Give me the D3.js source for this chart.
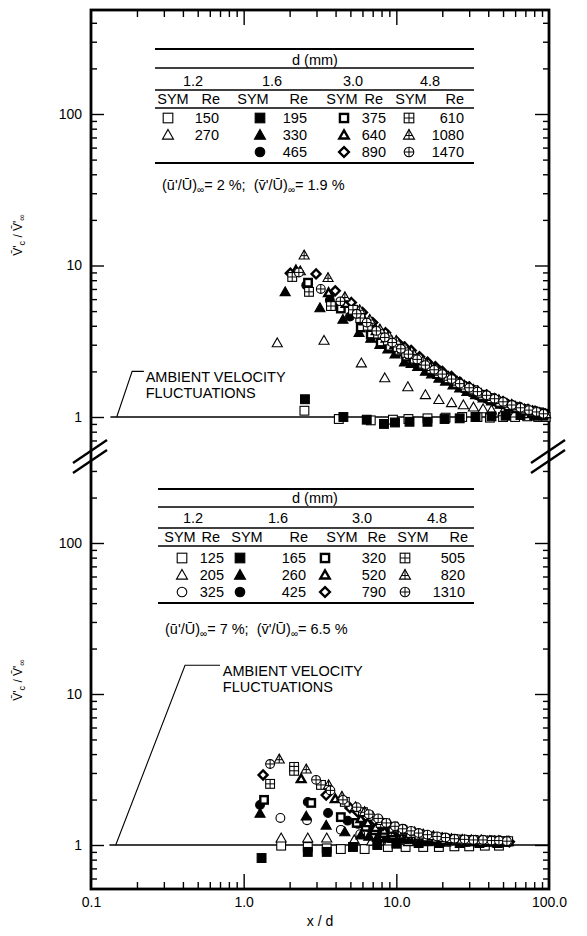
<!DOCTYPE html>
<meta charset="utf-8">
<script src="https://d3js.org/d3.v7.min.js"></script>
<style>
body { margin: 0; background: #fff; }
text { font-family: "Liberation Sans", Arial, sans-serif; fill: #000; }
</style>
<body>
<div id="chart"></div>
<script>
// ---------- data ----------
var diameters = ["1.2", "1.6", "3.0", "4.8"];
var reTop = [[150, 270], [195, 330, 465], [375, 640, 890], [610, 1080, 1470]];
var reBot = [[125, 205, 325], [165, 260, 425], [320, 520, 790], [505, 820, 1310]];

// top panel, (u'/U)inf = 2 %
var top150 = [[2.5,1.1],[4.2,0.97],[6.8,0.95],[9.5,0.96],[12,0.97],[16,0.98],[21,0.99],[27,1.0],[34,1.0],[41,0.99],[50,1.0],[60,1.0],[72,1.01],[85,1.0],[95,1.0]];
var top270 = [[1.66,3.08],[3.36,3.2],[5.9,2.27],[8.4,1.81],[11.9,1.58],[15.5,1.4],[19,1.3],[23,1.24],[27.5,1.2],[32,1.16],[37,1.13],[42,1.11],[50,1.08],[60,1.06],[72,1.05],[88,1.03]];
var top195 = [[2.52,1.31],[4.5,1.0],[6.4,0.96],[8.3,0.9],[9.8,0.92],[12.2,0.93],[16,0.93],[20.7,0.97],[26,0.98],[33,1.0],[42,1.01],[52,1.02],[65,1.03],[80,1.02],[92,1.02]];
var top330 = [[1.87,6.7],[3.16,5.25],[4.47,4.4],[5.7,3.6],[6.8,3.3],[7.8,3.0],[8.8,2.8],[9.8,2.6],[11.3,2.3],[12.5,2.25],[13.8,2.15],[15.5,2.0],[17,1.92],[19,1.8],[21,1.72],[23.5,1.62],[26,1.55],[29,1.47],[33,1.4],[37,1.33],[42,1.27],[48,1.21],[55,1.17],[62,1.13],[70,1.1],[78,1.07],[88,1.05]];
var top465 = [[2.57,7.4],[3.67,5.9],[4.97,4.6],[6.0,4.0],[7.0,3.6],[8.0,3.25],[9.0,3.0],[10.2,2.75],[11.5,2.55],[13,2.35],[14.5,2.2],[16.5,2.02],[18.5,1.9],[21,1.77],[24,1.65],[27.5,1.54],[31,1.45],[35,1.37],[40,1.3],[46,1.24],[52,1.2],[59,1.15],[67,1.12],[75,1.09],[85,1.06]];
var top375 = [[2.64,7.7],[4.33,5.2],[5.85,3.9],[6.8,3.5],[7.9,3.1],[9.0,2.9],[10.3,2.7],[11.6,2.5],[13,2.35],[14.7,2.18],[16.5,2.05],[18.5,1.92],[21,1.8],[24,1.7],[27,1.6],[31,1.5],[35,1.4],[40,1.33],[45,1.27],[51,1.22],[58,1.17],[66,1.13],[75,1.1],[83,1.07],[92,1.05]];
var top640 = [[2.2,9.3],[3.6,6.6],[4.7,5.6],[5.4,4.9],[6.2,4.3],[7.4,3.7],[8.6,3.3],[9.8,3.0],[11,2.8],[12.5,2.58],[14,2.4],[16,2.2],[18,2.05],[20.5,1.92],[23,1.8],[26.5,1.67],[30,1.55],[34,1.46],[39,1.38],[44,1.31],[50,1.25],[57,1.2],[64,1.15],[72,1.11],[82,1.08],[92,1.05]];
var top890 = [[2.02,8.9],[2.98,8.8],[3.98,6.8],[5.07,5.7],[6.0,4.9],[7.0,4.2],[8.5,3.6],[10.2,3.1],[11.3,2.9],[12.5,2.75],[14.2,2.5],[16,2.3],[18,2.15],[20,2.0],[23,1.85],[26,1.7],[30,1.58],[34,1.48],[39,1.4],[44,1.32],[50,1.26],[57,1.2],[65,1.15],[73,1.12],[81,1.09],[90,1.06]];
var top610 = [[2.08,8.4],[2.68,6.7],[3.73,5.4],[5.2,5.1],[5.8,4.5],[6.5,4.0],[7.6,3.55],[8.8,3.2],[10.2,2.9],[11.6,2.65],[13.2,2.43],[15,2.25],[17,2.08],[19,1.95],[22,1.8],[25,1.68],[28.5,1.58],[32,1.5],[37,1.4],[42,1.33],[48,1.26],[55,1.2],[62,1.16],[70,1.12],[79,1.09],[88,1.06]];
var top1080 = [[2.49,11.7],[2.35,9.2],[3.57,8.3],[4.6,6.2],[5.75,5.1],[6.7,4.4],[7.8,3.8],[8.9,3.45],[10,3.2],[11.4,2.88],[13,2.6],[15,2.35],[17,2.15],[19.5,2.0],[22,1.85],[25,1.72],[28,1.62],[32,1.52],[36,1.43],[41,1.36],[47,1.3],[53,1.23],[60,1.18],[69,1.13],[78,1.1],[87,1.07],[95,1.05]];
var top1470 = [[2.3,9.0],[3.2,7.0],[4.3,5.8],[5.5,4.8],[6.4,4.2],[7.4,3.7],[8.4,3.35],[9.4,3.1],[10.7,2.82],[12,2.6],[13.7,2.4],[15.5,2.2],[17.7,2.05],[20,1.92],[23,1.78],[26,1.66],[30,1.56],[34,1.47],[39,1.39],[44,1.32],[50,1.26],[57,1.2],[65,1.15],[74,1.11],[83,1.08],[92,1.05]];

// bottom panel, (u'/U)inf = 7 %
var bot125 = [[1.76,0.99],[2.63,0.97],[3.5,0.95],[4.33,0.94],[6.2,0.94],[8.8,0.97],[11.5,0.97],[15,0.97],[19,0.97],[24,0.98],[30,0.98],[38,0.99],[47,0.99]];
var bot205 = [[1.76,1.11],[2.63,1.11],[3.5,1.11],[5.3,1.08],[6.9,1.06],[9,1.06],[12,1.05],[16,1.05],[21,1.04],[28,1.04],[36,1.04],[46,1.03]];
var bot325 = [[1.74,1.51],[2.6,1.46],[4.33,1.26],[5.8,1.18],[8,1.12],[11,1.08],[15,1.06],[20,1.05],[27,1.04],[36,1.04],[48,1.03]];
var bot165 = [[1.31,0.82],[2.63,0.9],[3.5,0.9],[5.2,0.97],[7.5,1.0],[10,1.02],[14,1.03],[19,1.03],[26,1.03],[35,1.03],[46,1.03]];
var bot260 = [[1.28,1.62],[2.57,1.55],[3.47,1.35],[4.6,1.22],[5.86,1.16],[6.6,1.14],[7.5,1.12],[8.5,1.11],[9.5,1.1],[11,1.09],[12.5,1.08],[14.5,1.07],[17,1.06],[20,1.06],[23,1.06],[27,1.05],[31,1.05],[36,1.05],[42,1.05],[47,1.05],[53,1.05]];
var bot425 = [[1.28,1.84],[2.63,1.93],[3.57,1.63],[4.8,1.45],[5.6,1.38],[6.5,1.32],[7.4,1.25],[8.3,1.2],[9.4,1.17],[10.5,1.14],[12,1.12],[14,1.1],[16.5,1.09],[19,1.08],[22,1.07],[25,1.07],[29,1.06],[33,1.06],[38,1.05],[44,1.05],[49,1.05],[54,1.05]];
var bot320 = [[1.36,1.99],[2.77,1.9],[4.33,1.53],[5.5,1.4],[6.3,1.32],[7.2,1.25],[8.3,1.2],[9.5,1.16],[11,1.14],[12.5,1.12],[14.5,1.1],[16.5,1.09],[19,1.08],[22,1.07],[26,1.06],[30,1.06],[35,1.05],[40,1.05],[46,1.05],[52,1.05]];
var bot520 = [[2.38,2.74],[3.98,2.02],[5.86,1.49],[6.5,1.4],[7.3,1.3],[8.3,1.25],[9.3,1.2],[10.6,1.16],[12,1.13],[14,1.11],[16,1.1],[18.5,1.09],[21,1.08],[24.5,1.07],[28,1.07],[32,1.06],[37,1.06],[42,1.05],[48,1.05],[54,1.05]];
var bot790 = [[1.34,2.91],[3.47,2.14],[4.97,1.76],[5.6,1.65],[6.3,1.55],[7.2,1.45],[8.2,1.35],[9.3,1.28],[10.5,1.22],[12,1.18],[14,1.14],[16.5,1.12],[19,1.1],[22,1.09],[25,1.08],[29,1.07],[33,1.07],[38,1.06],[44,1.06],[49,1.05],[55,1.05]];
var bot505 = [[1.49,2.54],[2.14,3.29],[2.14,3.1],[3.21,2.5],[4.6,1.93],[6.04,1.65],[7.9,1.4],[9.6,1.3],[11,1.25],[12.5,1.2],[14.2,1.17],[16,1.14],[18.5,1.12],[21,1.1],[24.5,1.09],[28,1.08],[32,1.08],[37,1.07],[42,1.07],[48,1.06],[54,1.06]];
var bot820 = [[1.71,3.7],[2.57,3.18],[3.6,2.5],[4.4,2.1],[5.4,1.79],[6.2,1.66],[7,1.55],[8,1.45],[9,1.38],[10.2,1.31],[11.5,1.26],[13.2,1.22],[15,1.18],[17.5,1.15],[20,1.12],[23,1.1],[27,1.09],[31,1.08],[36,1.08],[41,1.07],[47,1.07],[53,1.06]];
var bot1310 = [[1.49,3.44],[2.98,2.7],[3.7,2.3],[4.47,1.99],[5.5,1.78],[6.6,1.6],[7.6,1.5],[8.6,1.4],[9.8,1.33],[11,1.28],[12.5,1.24],[14,1.2],[16,1.17],[18.5,1.14],[21,1.12],[24,1.1],[28,1.09],[32,1.08],[37,1.08],[42,1.07],[47,1.07],[53,1.06]];

var topData = {150: top150, 270: top270, 195: top195, 330: top330, 465: top465, 375: top375,
  640: top640, 890: top890, 610: top610, 1080: top1080, 1470: top1470};
var botData = {125: bot125, 205: bot205, 325: bot325, 165: bot165, 260: bot260, 425: bot425,
  320: bot320, 520: bot520, 790: bot790, 505: bot505, 820: bot820, 1310: bot1310};

var xTickVals = [0.1, 1, 10, 100];
var xTickLabels = ["0.1", "1.0", "10.0", "100.0"];
var xMinor = [0.2,0.3,0.4,0.5,0.6,0.7,0.8,0.9,2,3,4,5,6,7,8,9,20,30,40,50,60,70,80,90];
var yTickVals = [1, 10, 100];
var yTickLabels = ["1", "10", "100"];
var yTopMinor = [0.7,0.8,0.9,2,3,4,5,6,7,8,9,20,30,40,50,60,70,80,90,200,300,400];
var yBotMinor = [0.6,0.7,0.8,0.9,2,3,4,5,6,7,8,9,20,30,40,50,60,70,80,90,200,300];

// symbol per (diameter column, row)
var symKinds = [["sqOpen", "triOpen", "circOpen"], ["sqFill", "triFill", "circFill"],
  ["sqBold", "triBold", "diaBold"], ["sqCross", "triCross", "circCross"]];

// ---------- chart ----------
var W = 587, H = 936;
var svg = d3.select("#chart").append("svg").attr("width", W).attr("height", H);
svg.append("rect").attr("width", W).attr("height", H).attr("fill", "#fff");

var fL = 91, fR = 549, fT = 10, fB = 889;
var x = d3.scaleLog().domain([0.1, 100]).range([fL, fR]);
var yTop = d3.scaleLog().domain([1, 100]).range([417, 114]);
var yBot = d3.scaleLog().domain([1, 100]).range([845, 543]);

function drawSym(g, kind, cx, cy, s) {
  var bold = kind.indexOf("Bold") >= 0;
  var fill = kind.indexOf("Fill") >= 0 ? "#000" : "#fff";
  var sw = bold ? 2.4 : 1.1;
  if (bold) s = s * 0.85;
  var el;
  if (kind.indexOf("sq") === 0) {
    el = g.append("rect").attr("x", cx - s).attr("y", cy - s).attr("width", 2 * s).attr("height", 2 * s);
  } else if (kind.indexOf("tri") === 0) {
    var t = s * 1.15;
    el = g.append("path").attr("d", "M" + cx + "," + (cy - t) + "L" + (cx + t) + "," + (cy + t * 0.75) +
      "L" + (cx - t) + "," + (cy + t * 0.75) + "Z");
  } else if (kind.indexOf("circ") === 0) {
    el = g.append("circle").attr("cx", cx).attr("cy", cy).attr("r", s);
  } else {
    var d = s * 1.2;
    el = g.append("path").attr("d", "M" + cx + "," + (cy - d) + "L" + (cx + d) + "," + cy +
      "L" + cx + "," + (cy + d) + "L" + (cx - d) + "," + cy + "Z");
  }
  el.attr("fill", fill).attr("stroke", "#000").attr("stroke-width", sw);
  if (kind === "sqCross" || kind === "circCross") {
    g.append("line").attr("x1", cx - s).attr("x2", cx + s).attr("y1", cy).attr("y2", cy).attr("stroke", "#000");
    g.append("line").attr("x1", cx).attr("x2", cx).attr("y1", cy - s).attr("y2", cy + s).attr("stroke", "#000");
  }
  if (kind === "triCross") {
    var t2 = s * 1.15;
    g.append("line").attr("x1", cx).attr("x2", cx).attr("y1", cy - t2).attr("y2", cy + t2 * 0.75).attr("stroke", "#000");
    g.append("line").attr("x1", cx - t2 * 0.6).attr("x2", cx + t2 * 0.6).attr("y1", cy + t2 * 0.1).attr("y2", cy + t2 * 0.1).attr("stroke", "#000");
  }
}

function fmt(d) {
  var i = yTickVals.indexOf(d);
  return i >= 0 ? yTickLabels[i] : "";
}

function yAxes(scale, minor) {
  var vals = minor.concat(yTickVals);
  svg.append("g").attr("transform", "translate(" + fL + ",0)")
    .call(d3.axisLeft(scale).tickValues(vals).tickSize(-6).tickPadding(9).tickFormat(fmt))
    .call(function(g) {
      g.select(".domain").remove();
      g.attr("font-family", null).attr("font-size", 14);
      g.selectAll(".tick line").attr("stroke-width", 1.4)
        .attr("x2", function(d) { return yTickVals.indexOf(d) >= 0 ? 13 : 6; });
    });
  svg.append("g").attr("transform", "translate(" + fR + ",0)")
    .call(d3.axisRight(scale).tickValues(vals).tickSize(-6).tickFormat(""))
    .call(function(g) {
      g.select(".domain").remove();
      g.selectAll(".tick line").attr("stroke-width", 1.4)
        .attr("x2", function(d) { return yTickVals.indexOf(d) >= 0 ? -14 : -6; });
    });
}
yAxes(yTop, yTopMinor);
yAxes(yBot, yBotMinor);

// x axes (top edge ticks only, bottom edge with labels)
svg.append("g").attr("transform", "translate(0," + fT + ")")
  .call(d3.axisTop(x).tickValues(xMinor.concat([1, 10])).tickSize(-7).tickFormat(""))
  .call(function(g) {
    g.select(".domain").remove();
    g.selectAll(".tick line").attr("stroke-width", 1.4)
      .attr("y2", function(d) { return d === 1 || d === 10 ? 15 : 7; });
  });
svg.append("g").attr("transform", "translate(0," + fB + ")")
  .call(d3.axisBottom(x).tickValues(xMinor.concat(xTickVals)).tickSize(-7).tickPadding(8)
    .tickFormat(function(d) { var i = xTickVals.indexOf(d); return i >= 0 ? xTickLabels[i] : ""; }))
  .call(function(g) {
    g.select(".domain").remove();
    g.attr("font-family", null).attr("font-size", 14);
    g.selectAll(".tick line").attr("stroke-width", 1.4)
      .attr("y2", function(d) { return d === 1 || d === 10 ? -15 : (d === 0.1 || d === 100 ? 0 : -7); });
  });

// frame
svg.append("rect").attr("x", fL).attr("y", fT).attr("width", fR - fL).attr("height", fB - fT)
  .attr("fill", "none").attr("stroke", "#000").attr("stroke-width", 2.8);

// axis break marks
[fL, fR].forEach(function(ax) {
  [0, 10].forEach(function(o) {
    svg.append("line").attr("x1", ax - 18).attr("y1", 463 + o).attr("x2", ax + 16).attr("y2", 440 + o)
      .attr("stroke", "#000").attr("stroke-width", 2.4);
  });
});

// axis titles
svg.append("text").attr("x", (fL + fR) / 2).attr("y", 926).attr("text-anchor", "middle")
  .attr("font-size", 14).text("x / d");
[235, 680].forEach(function(cy) {
  var t = svg.append("text").attr("transform", "translate(22," + cy + ") rotate(-90)")
    .attr("text-anchor", "middle").attr("font-size", 12);
  t.append("tspan").text("V\u0304'");
  t.append("tspan").attr("dy", 3).attr("font-size", 9).text("c");
  t.append("tspan").attr("dy", -3).text(" / V\u0304'");
  t.append("tspan").attr("dy", 3).attr("font-size", 9).text("\u221e");
});

// ambient velocity fluctuation lines
function ambient(scale, x0, xa, ya, xb, tx) {
  svg.append("line").attr("x1", x(x0)).attr("x2", x(100)).attr("y1", scale(1)).attr("y2", scale(1))
    .attr("stroke", "#000").attr("stroke-width", 1.5);
  svg.append("path").attr("fill", "none").attr("stroke", "#000").attr("stroke-width", 1.1)
    .attr("d", "M" + x(x0 * 1.1) + "," + scale(1) + "L" + x(xa) + "," + scale(ya) + "L" + x(xb) + "," + scale(ya));
  var t = svg.append("text").attr("x", x(tx)).attr("y", scale(ya) + 10.5).attr("font-size", 14.5);
  t.append("tspan").text("AMBIENT VELOCITY");
  t.append("tspan").attr("x", x(tx)).attr("dy", 16).text("FLUCTUATIONS");
}
ambient(yTop, 0.134, 0.186, 2, 0.222, 0.228);
ambient(yBot, 0.132, 0.413, 15.5, 0.70, 0.73);

// data
function plotPanel(scale, reList, data) {
  var g = svg.append("g");
  reList.forEach(function(col, ci) {
    col.forEach(function(re, ri) {
      data[re].forEach(function(p) {
        drawSym(g, symKinds[ci][ri], x(p[0]), scale(p[1]), 4.4);
      });
    });
  });
}
plotPanel(yTop, reTop, topData);
plotPanel(yBot, reBot, botData);

// legend tables
function table(L, reList, note) {
  var g = svg.append("g").attr("font-size", 14.5);
  L.rules.forEach(function(ry, i) {
    g.append("line").attr("x1", L.x0).attr("x2", L.x1).attr("y1", ry).attr("y2", ry)
      .attr("stroke", "#000").attr("stroke-width", i === 0 || i === 4 ? 2.2 : 1.7);
  });
  g.append("text").attr("x", L.dmmX).attr("y", L.dmmY).attr("text-anchor", "middle").text("d (mm)");
  diameters.forEach(function(dm, i) {
    g.append("text").attr("x", L.diamX[i]).attr("y", L.diamY).attr("text-anchor", "middle").text(dm);
    g.append("text").attr("x", L.symHdrX[i]).attr("y", L.hdrY).attr("text-anchor", "middle").text("SYM");
    g.append("text").attr("x", L.reHdrX[i]).attr("y", L.hdrY).attr("text-anchor", "end").text("Re");
    reList[i].forEach(function(re, ri) {
      drawSym(g, symKinds[i][ri], L.symX[i], L.rowY[ri] - 5, 4.8);
      g.append("text").attr("x", L.reX[i]).attr("y", L.rowY[ri]).attr("text-anchor", "end").text(re);
    });
  });
  var t = svg.append("text").attr("x", L.noteX).attr("y", L.noteY).attr("font-size", 14.5);
  t.append("tspan").text("(\u016b'/\u016a)");
  t.append("tspan").attr("dy", 3).attr("font-size", 10).text("\u221e");
  t.append("tspan").attr("dy", -3).text("= " + note[0] + " %;\u00a0\u00a0(v\u0304'/\u016a)");
  t.append("tspan").attr("dy", 3).attr("font-size", 10).text("\u221e");
  t.append("tspan").attr("dy", -3).text("= " + note[1] + " %");
}

table({x0: 155, x1: 474, rules: [49, 68, 90, 108, 163], dmmX: 315, dmmY: 65, diamX: [193, 272, 353, 430], diamY: 86,
  hdrY: 104, symHdrX: [173, 253, 342, 411], reHdrX: [220, 308, 383, 464], rowY: [123, 140, 157],
  symX: [168, 260, 344, 409], reX: [219, 307, 386, 464], noteX: 162, noteY: 190}, reTop, ["2", "1.9"]);
table({x0: 158, x1: 474, rules: [489, 507, 528, 546, 603], dmmX: 315, dmmY: 503, diamX: [193, 278, 362, 437], diamY: 523,
  hdrY: 542, symHdrX: [180, 247, 342, 413], reHdrX: [220, 308, 386, 468], rowY: [563, 580, 597],
  symX: [182, 240, 325, 405], reX: [224, 306, 386, 465], noteX: 165, noteY: 634}, reBot, ["7", "6.5"]);
</script>
</body>
